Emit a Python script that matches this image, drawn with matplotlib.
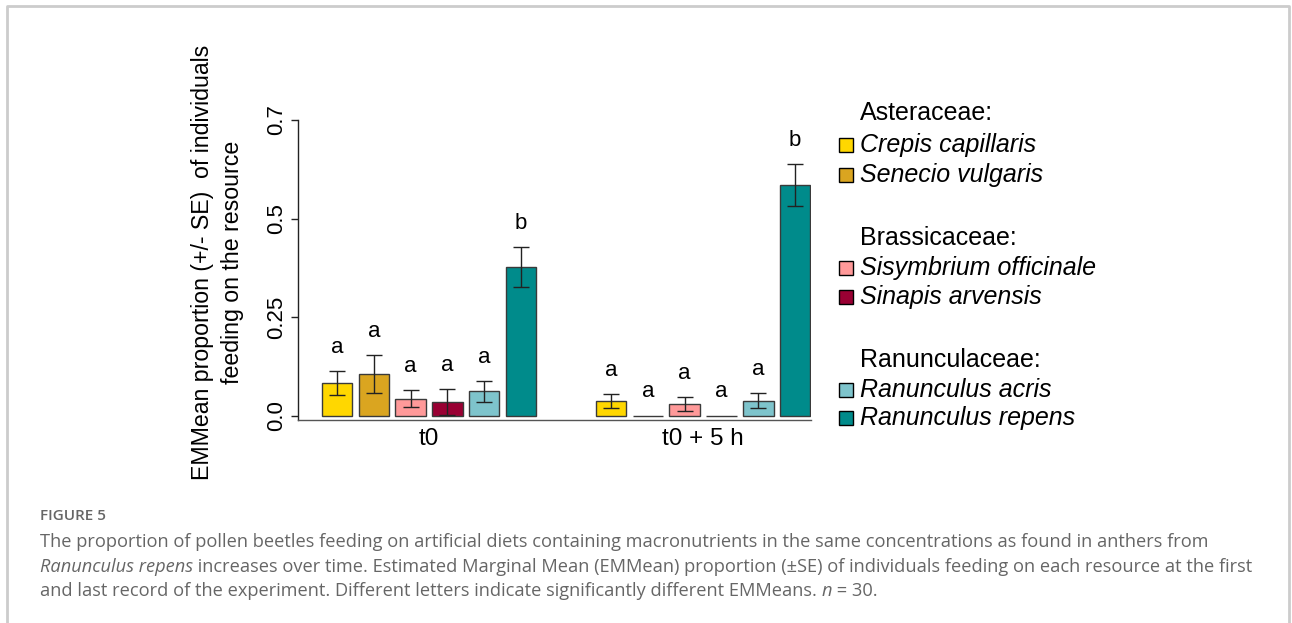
import matplotlib
matplotlib.use("Agg")
import matplotlib.pyplot as plt
from matplotlib.lines import Line2D
from matplotlib.patches import Rectangle
import numpy as np

# ---------------- data ----------------
groups = ["t0", "t0 + 5 h"]
species = ["Crepis capillaris", "Senecio vulgaris", "Sisymbrium officinale",
           "Sinapis arvensis", "Ranunculus acris", "Ranunculus repens"]
families = ["Asteraceae:", "Brassicaceae:", "Ranunculaceae:"]
colors = ["#FFD700", "#DAA520", "#FF9999", "#990033", "#7EC4CC", "#008B8B"]
mean_t0 = [0.082, 0.105, 0.043, 0.035, 0.061, 0.377]
se_t0 = [0.031, 0.048, 0.021, 0.033, 0.026, 0.051]
mean_t5 = [0.037, 0.0, 0.029, 0.0, 0.037, 0.585]
se_t5 = [0.018, 0.0, 0.018, 0.0, 0.019, 0.054]
letters_t0 = ["a", "a", "a", "a", "a", "b"]
letters_t5 = ["a", "a", "a", "a", "a", "b"]
yticks = [0, 0.25, 0.5, 0.75]
yticklabels = ["0.0", "0.25", "0.5", "0.7"]
ylabel_lines = ["EMMean proportion (+/- SE)  of individuals", "feeding on the resource"]
fig_label = "FIGURE 5"
caption = [
    [("The proportion of pollen beetles feeding on artificial diets containing macronutrients in the same concentrations as found in anthers from", "normal")],
    [("Ranunculus repens", "italic"),
     (" increases over time. Estimated Marginal Mean (EMMean) proportion (\u00b1SE) of individuals feeding on each resource at the first", "normal")],
    [("and last record of the experiment. Different letters indicate significantly different EMMeans. ", "normal"),
     ("n", "italic"), (" = 30.", "normal")],
]

# ---------------- layout ----------------
W, H = 1292, 623
def fx(x): return x / W
def fy(y): return 1 - y / H

CHART = "Liberation Sans"
fig = plt.figure(figsize=(W / 100, H / 100), dpi=100)
fig.patch.set_facecolor("white")

ax = fig.add_axes([fx(298), fy(420), 512.6 / W, 300 / H])
group_gap = 7.45
bar_w = 0.83
for g, (means, ses, lets) in enumerate([(mean_t0, se_t0, letters_t0),
                                         (mean_t5, se_t5, letters_t5)]):
    x = g * group_gap + np.arange(len(means))
    ax.bar(x, means, width=bar_w, color=colors, edgecolor="#3a3a3a", linewidth=1.0, zorder=2)
    m = np.array(means); s = np.array(ses)
    keep = s > 0
    ax.errorbar(x[keep], m[keep], yerr=s[keep], fmt="none", ecolor="#222222",
                elinewidth=1.0, capsize=5.8, capthick=1.0, zorder=3)
    for xi, mi, si, lt in zip(x, m, s, lets):
        ax.text(xi, mi + si + 0.06, lt, ha="center", va="center", fontsize=16,
                family=CHART, color="black")

ax.set_xlim(-1.06, 12.87)
ax.set_ylim(-0.0114, 0.75)
for sp in ["top", "right"]:
    ax.spines[sp].set_visible(False)
ax.spines["bottom"].set_color("#555555")
ax.spines["bottom"].set_linewidth(1.0)
ax.spines["left"].set_color("#222222")
ax.spines["left"].set_linewidth(1.0)

ax.set_xticks([2.5, group_gap + 2.5])
ax.set_xticklabels(groups, fontsize=17.5, family=CHART)
ax.tick_params(axis="x", length=0, pad=6)
ax.set_yticks(yticks)
ax.set_yticklabels(yticklabels, fontsize=16, family=CHART, rotation=90)
ax.tick_params(axis="y", length=5, width=1, pad=3, color="#222222")
for lbl in ax.get_yticklabels():
    lbl.set_va("center")

# y-label (two lines)
fig.text(fx(203), fy(262), ylabel_lines[0], rotation=90, ha="center", va="center",
         fontsize=16.7, family=CHART)
fig.text(fx(233), fy(262), ylabel_lines[1], rotation=90, ha="center", va="center",
         fontsize=16.7, family=CHART)

# legend
header_y = [113, 238, 360]
item_y = [145, 175, 268, 297, 390, 418]
for fam, yy in zip(families, header_y):
    fig.text(fx(860), fy(yy), fam, ha="left", va="center", fontsize=18, family=CHART)
for sp_name, c, yy in zip(species, colors, item_y):
    fig.text(fx(860), fy(yy), sp_name, ha="left", va="center", fontsize=18,
             family=CHART, style="italic")
    fig.add_artist(Rectangle((fx(839), fy(yy + 7)), 14 / W, 14 / H,
                             transform=fig.transFigure, facecolor=c,
                             edgecolor="black", linewidth=1.0))

# frame
fig.add_artist(Line2D([fx(7), fx(7), fx(1289), fx(1289)], [0, fy(6), fy(6), 0],
                      color="#cccccc", lw=2, transform=fig.transFigure))

# caption
CAP = "Open Sans"
cap_color = "#666666"
renderer = fig.canvas.get_renderer()
probe = fig.text(0, 0, caption[0][0][0], fontsize=12, family=CAP)
w12 = probe.get_window_extent(renderer=renderer).width
probe.remove()
cap_fs = 12 * 1168 / w12

fig.text(fx(40), fy(520), fig_label, ha="left", va="baseline", fontsize=11,
         family=CAP, weight="semibold", color=cap_color)

def place_segments(x, y, segments):
    for txt, style in segments:
        t = fig.text(fx(x), fy(y), txt, ha="left", va="baseline", fontsize=cap_fs,
                     family=CAP, style=style, color=cap_color)
        x += t.get_window_extent(renderer=renderer).width

for line, yy in zip(caption, [547, 572, 596]):
    place_segments(40, yy, line)

fig.savefig("out.png", dpi=100)
